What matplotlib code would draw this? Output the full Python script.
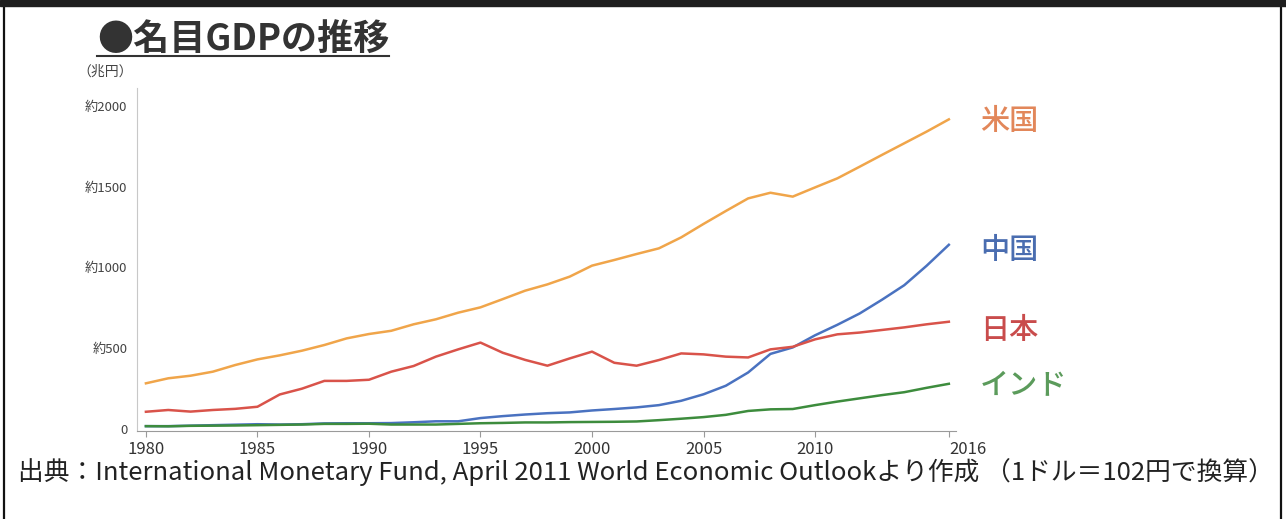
import matplotlib
matplotlib.use("Agg")
import matplotlib.pyplot as plt
from matplotlib.lines import Line2D
from matplotlib.patches import Rectangle

plt.rcParams["font.family"] = ["Noto Sans CJK JP", "DejaVu Sans"]

# nominal GDP, trillion yen
years = list(range(1980, 2017))
usa = [283, 314, 330, 355, 396, 431, 456, 485, 520, 561,
       588, 608, 648, 679, 720, 753, 804, 856, 895, 943,
       1011, 1046, 1083, 1118, 1186, 1269, 1349, 1427, 1462, 1438,
       1495, 1551, 1623, 1696, 1768, 1840, 1916]
china = [18, 18, 21, 24, 27, 30, 28, 30, 35, 36,
         36, 37, 42, 48, 48, 68, 80, 90, 98, 103,
         115, 124, 134, 148, 175, 215, 268, 350, 465, 505,
         580, 645, 715, 800, 890, 1010, 1140]
japan = [107, 118, 108, 118, 125, 138, 214, 250, 298, 298,
         305, 355, 390, 448, 493, 535, 472, 428, 392, 437,
         479, 410, 392, 427, 468, 462, 448, 443, 493, 509,
         555, 586, 597, 613, 629, 648, 664]
india = [18, 17, 20, 21, 22, 24, 26, 28, 32, 32,
         33, 28, 28, 28, 32, 36, 38, 41, 41, 43,
         44, 45, 47, 55, 64, 74, 88, 112, 122, 124,
         148, 170, 190, 210, 228, 255, 280]

series = [
    ("中国", china, "#4a72c0", "#4a6db0", 6),
    ("インド", india, "#3d8c3d", "#5b9b5b", 2),
    ("日本", japan, "#d9534a", "#c94c4c", 9),
    ("米国", usa, "#f0a54a", "#e2875a", 2),
]

x_ticks = [1980, 1985, 1990, 1995, 2000, 2005, 2010, 2016]
y_ticks = [0, 500, 1000, 1500, 2000]
y_labels = ["0", "約500", "約1000", "約1500", "約2000"]

W, H = 1286, 519
fig = plt.figure(figsize=(W / 100, H / 100), dpi=100)
fig.patch.set_facecolor("white")

ax = fig.add_axes([137 / W, 1 - 431 / H, (956 - 137) / W, (431 - 88) / H])
for name, vals, lc, tc, dy in series:
    ax.plot(years, vals, color=lc, lw=1.8, solid_joinstyle="round")
    ax.annotate(name, xy=(years[-1], vals[-1]), xytext=(31 * 0.72, -dy * 0.72),
                textcoords="offset points", color=tc, fontsize=21,
                fontweight="medium", va="center", ha="left",
                annotation_clip=False)

ax.set_xlim(1979.6, 2016.32)
ax.set_ylim(-12, 2110)
ax.set_xticks(x_ticks)
ax.set_yticks(y_ticks, y_labels)
for s in ("top", "right"):
    ax.spines[s].set_visible(False)
ax.spines["left"].set_color("#c8c8c8")
ax.spines["bottom"].set_color("#9a9a9a")
ax.tick_params(axis="y", length=0, pad=7, labelsize=9.5, labelcolor="#444444")
ax.tick_params(axis="x", length=4, color="#9a9a9a", pad=3, labelsize=12,
               labelcolor="#333333")
ax.get_xticklabels()[-1].set_horizontalalignment("left")

fig.text(105 / W, 1 - 72 / H, "（兆円）", fontsize=10, color="#444444",
         ha="center", va="center")

title = fig.text(97 / W, 1 - 40 / H, "●名目GDPの推移", fontsize=26,
                 fontweight="bold", color="#333333", ha="left", va="center")

fig.text(18 / W, 1 - 472 / H,
         "出典：International Monetary Fund, April 2011 World Economic Outlookより作成 （1ドル＝102円で換算）",
         fontsize=18.5, color="#222222", ha="left", va="center")

# underline under the title
fig.canvas.draw()
bb = title.get_window_extent().transformed(fig.transFigure.inverted())
fig.add_artist(Line2D([bb.x0, bb.x1], [1 - 56 / H] * 2, color="#333333",
                      lw=1.5, transform=fig.transFigure))

# scanned page frame
fig.add_artist(Rectangle((0, 1 - 6 / H), 1, 6 / H, transform=fig.transFigure,
                         color="#1e1e1e", zorder=5))
fig.add_artist(Line2D([4 / W, 4 / W], [0, 1], color="#111111", lw=1.6,
                      transform=fig.transFigure))
fig.add_artist(Line2D([1281 / W, 1281 / W], [0, 1], color="#111111", lw=1.6,
                      transform=fig.transFigure))

fig.savefig("out.png", dpi=100)
